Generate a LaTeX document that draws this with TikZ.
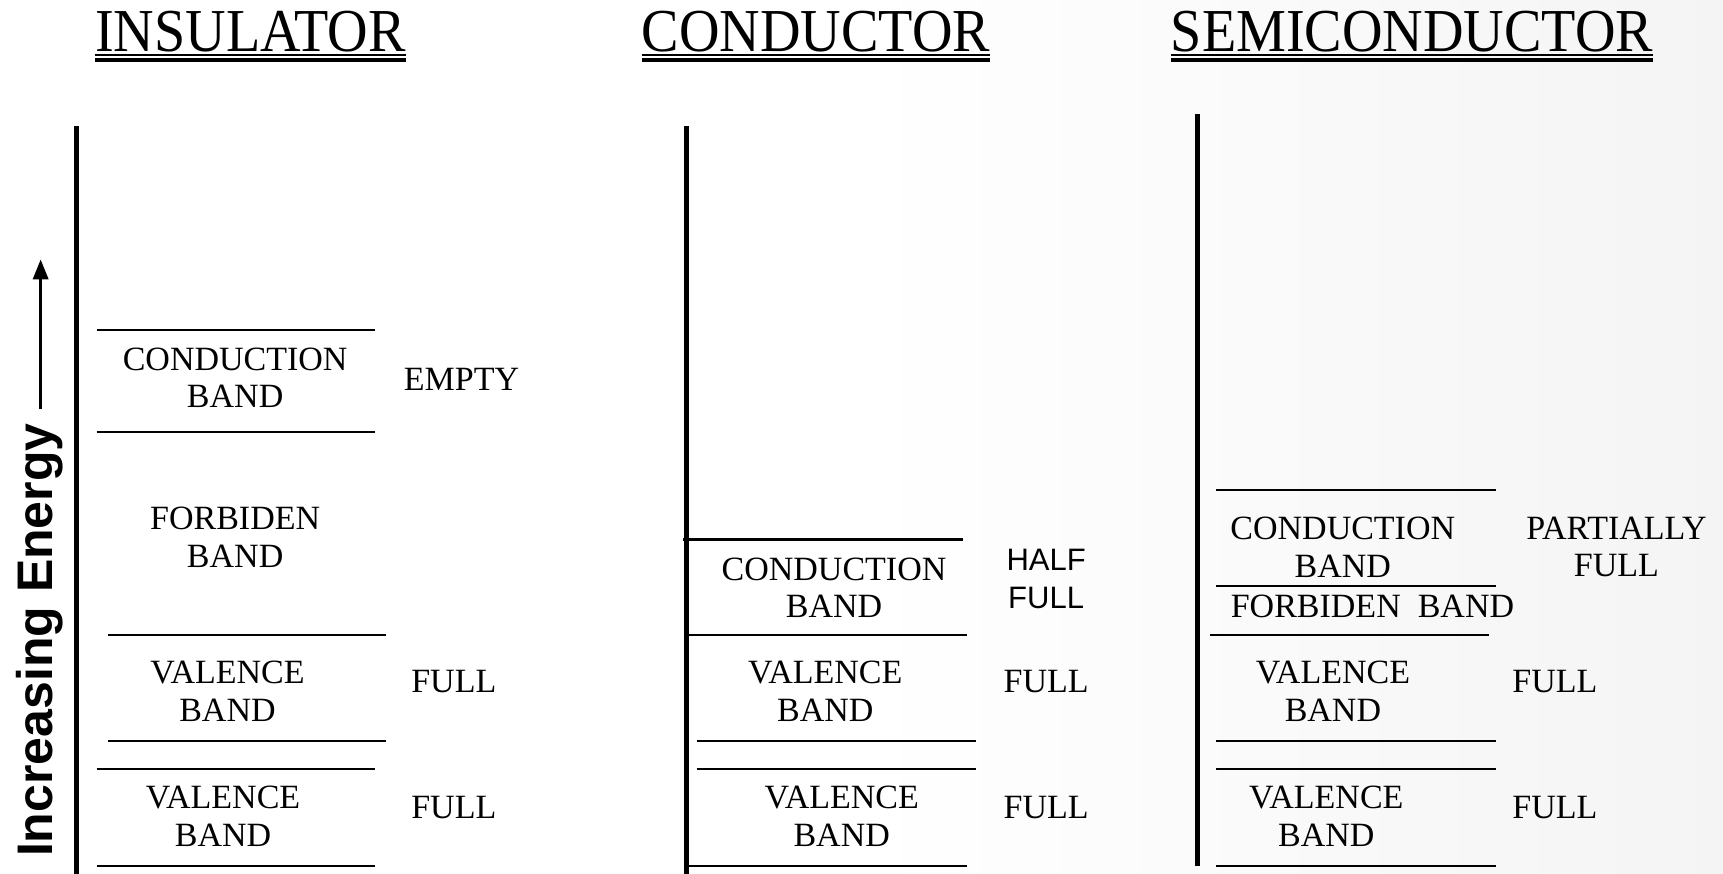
\documentclass[tikz,border=0pt]{standalone}
\usepackage{fontspec}
\setmainfont{Liberation Serif}
\newfontfamily\arialfont{Liberation Sans}
\usepackage{graphicx}
\usetikzlibrary{arrows.meta,calc}

\pgfdeclarehorizontalshading{bgshade}{100bp}{color(0bp)=(gray!10); color(22bp)=(white); color(50bp)=(white); color(100bp)=(gray!17)}

\tikzset{
  title/.style={inner sep=0pt, anchor=base, font=\fontsize{61}{68}\selectfont},
  lbl/.style={inner sep=0pt, align=center, font=\fontsize{34}{37.4}\selectfont},
  sanslbl/.style={inner sep=0pt, align=center, font=\arialfont\fontsize{31}{38}\selectfont},
  axisline/.style={line width=5pt},
  bandline/.style={line width=2.2pt},
  uthin/.style={line width=1.6pt},
  uthick/.style={line width=3.8pt},
  ylabel/.style={rotate=90, anchor=base west, inner sep=0pt, font=\arialfont\bfseries\fontsize{50}{55}\selectfont},
  uparrow/.style={line width=3.5pt, -{Triangle[length=20pt,width=15pt]}}
}

\begin{document}
\begin{tikzpicture}[x=1.0989pt,y=-1.0989pt]
\shade[shading=bgshade] (0,0) rectangle (1568,795);
\useasboundingbox (0,0) rectangle (1568,795);

% titles
\node[title] (tins) at (228,47) {\scalebox{0.92}[1]{INSULATOR}};
\node[title] (tcon) at (742.5,47) {\scalebox{0.92}[1]{CONDUCTOR}};
\node[title] (tsemi) at (1285,47) {\scalebox{0.92}[1]{SEMICONDUCTOR}};
\foreach \t in {tins,tcon,tsemi} {
  \draw[uthin] ($(\t.base west)+(0,3)$) -- ($(\t.base east)+(0,3)$);
  \draw[uthick] ($(\t.base west)+(0,7.5)$) -- ($(\t.base east)+(0,7.5)$);
}

% energy axis label
\coordinate (arrS) at (37,372);
\coordinate (arrE) at (37,236);
\draw[uparrow] (arrS) -- (arrE);
\node[ylabel] (ylab) at (48,780) {Increasing Energy};

% axes
\draw[axisline] (70,115) -- (70,795);
\draw[axisline] (625,115) -- (625,795);
\draw[axisline] (1090,104) -- (1090,788);

% insulator
\draw[bandline] (88,300) -- (341,300);
\draw[bandline] (88,393) -- (341,393);
\draw[bandline] (98,578) -- (351,578);
\draw[bandline] (98,674) -- (351,674);
\draw[bandline] (88,700) -- (341,700);
\draw[bandline] (88,788) -- (341,788);
\node[lbl] (icb) at (214,344) {CONDUCTION\\BAND};
\node[lbl] (iempty) at (420,345) {EMPTY};
\node[lbl] (ifb) at (214,489) {FORBIDEN\\BAND};
\node[lbl] (ivb1) at (207,629) {VALENCE\\BAND};
\node[lbl] (ifull1) at (413,620) {FULL};
\node[lbl] (ivb2) at (203,743) {VALENCE\\BAND};
\node[lbl] (ifull2) at (413,735) {FULL};

% conductor
\draw[bandline] (622,491) -- (876,491);
\draw[bandline] (627,578) -- (880,578);
\draw[bandline] (634,674) -- (888,674);
\draw[bandline] (634,700) -- (888,700);
\draw[bandline] (627,788) -- (880,788);
\node[lbl] (ccb) at (759,535) {CONDUCTION\\BAND};
\node[sanslbl] (chalf) at (952,527) {HALF\\FULL};
\node[lbl] (cvb1) at (751,629) {VALENCE\\BAND};
\node[lbl] (cfull1) at (952,620) {FULL};
\node[lbl] (cvb2) at (766,743) {VALENCE\\BAND};
\node[lbl] (cfull2) at (952,735) {FULL};

% semiconductor
\draw[bandline] (1107,446) -- (1361,446);
\draw[bandline] (1107,533) -- (1361,533);
\draw[bandline] (1101,578) -- (1355,578);
\draw[bandline] (1107,674) -- (1361,674);
\draw[bandline] (1107,700) -- (1361,700);
\draw[bandline] (1107,788) -- (1361,788);
\node[lbl] (scb) at (1222,498) {CONDUCTION\\BAND};
\node[lbl] (spart) at (1471,498) {PARTIALLY\\FULL};
\node[lbl] (sfb) at (1249,552) {FORBIDEN\ \ BAND};
\node[lbl] (svb1) at (1213,629) {VALENCE\\BAND};
\node[lbl] (sfull1) at (1415,620) {FULL};
\node[lbl] (svb2) at (1207,743) {VALENCE\\BAND};
\node[lbl] (sfull2) at (1415,735) {FULL};
\end{tikzpicture}
\end{document}
